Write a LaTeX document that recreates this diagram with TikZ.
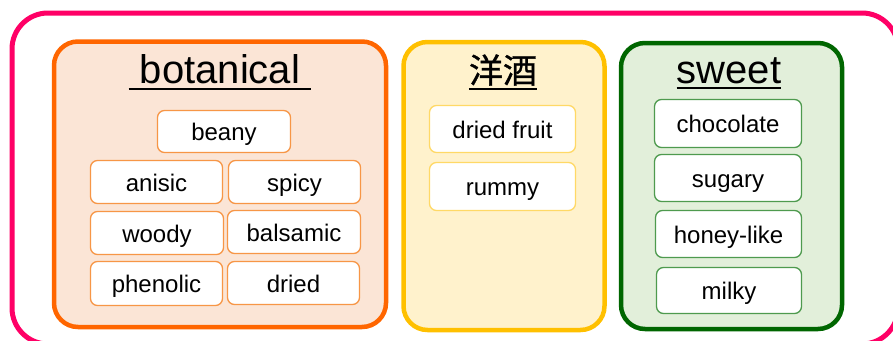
\documentclass[tikz,border=0pt]{standalone}
\usepackage{fontspec}
\setmainfont{Liberation Sans}
\newfontfamily\cjk[FakeBold=1]{Noto Sans CJK JP}
\definecolor{pinkc}{HTML}{FF0066}
\definecolor{orangec}{HTML}{FF6600}
\definecolor{orangefill}{HTML}{FBE5D6}
\definecolor{orangeitem}{HTML}{F79646}
\definecolor{yellowc}{HTML}{FFC000}
\definecolor{yellowfill}{HTML}{FFF2CC}
\definecolor{yellowitem}{HTML}{FFD966}
\definecolor{greenc}{HTML}{006600}
\definecolor{greenfill}{HTML}{E2EFDA}
\definecolor{greenitem}{HTML}{4E9A4E}
\begin{document}
\begin{tikzpicture}[x=1pt,y=-1pt,
  panel/.style={draw, line width=4.5pt, rounded corners=24pt, inner sep=0pt},
  item/.style={draw, line width=1.3pt, fill=white, rounded corners=7pt, inner sep=0pt,
    font=\fontsize{24}{28}\selectfont, text height=21pt, text depth=3pt},
  oitem/.style={item, draw=orangeitem},
  yitem/.style={item, draw=yellowitem},
  gitem/.style={item, draw=greenitem},
  title/.style={inner ysep=0pt, anchor=base, font=\fontsize{40}{44}\selectfont},
  uline/.style={line width=1.8pt}
]
\useasboundingbox (0,0) rectangle (893,340);
% outer frame
\node[draw=pinkc, line width=5pt, rounded corners=36pt, inner sep=0pt,
  minimum width=886pt, minimum height=331pt] (outer) at (455,178.5) {};
% panels
\node[panel, draw=orangec, fill=orangefill, minimum width=332pt, minimum height=285.5pt] (bot) at (220,184.25) {};
\node[panel, draw=yellowc, fill=yellowfill, minimum width=201pt, minimum height=288pt] (yoshu) at (504,186) {};
\node[panel, draw=greenc, fill=greenfill, minimum width=221pt, minimum height=286pt] (sweet) at (731.5,186) {};
% titles
\node[title, inner xsep=11pt] (tbot) at (220,83.5) {botanical};
\draw[uline] ([yshift=-5.5pt]tbot.base west) -- ([yshift=-5.5pt]tbot.base east);
\node[title, inner xsep=0pt, font=\fontsize{34}{38}\cjk] (tyoshu) at (503,83) {洋酒};
\draw[uline] ([yshift=-6pt]tyoshu.base west) -- ([yshift=-6pt]tyoshu.base east);
\node[title, inner xsep=0pt] (tsweet) at (729,83) {sweet};
\draw[uline] ([yshift=-5pt]tsweet.base west) -- ([yshift=-5pt]tsweet.base east);
% botanical items
\node[oitem, minimum width=133pt, minimum height=42pt] (beany) at (224,131.5) {beany};
\node[oitem, minimum width=132pt, minimum height=43pt] (anisic) at (156.5,182) {anisic};
\node[oitem, minimum width=132pt, minimum height=43pt] (spicy) at (294.5,182) {spicy};
\node[oitem, minimum width=133pt, minimum height=43pt] (woody) at (157,233) {woody};
\node[oitem, minimum width=133pt, minimum height=43pt] (balsamic) at (294,232) {balsamic};
\node[oitem, minimum width=132pt, minimum height=44pt] (phenolic) at (156.5,283.5) {phenolic};
\node[oitem, minimum width=132pt, minimum height=43pt] (dried) at (293.5,283) {dried};
% yoshu items
\node[yitem, minimum width=146pt, minimum height=47pt] (driedfruit) at (502.5,129) {dried fruit};
\node[yitem, minimum width=146pt, minimum height=48pt] (rummy) at (502.5,186.5) {rummy};
% sweet items
\node[gitem, minimum width=147pt, minimum height=48pt] (chocolate) at (728,123.5) {chocolate};
\node[gitem, minimum width=147pt, minimum height=47pt] (sugary) at (728,178) {sugary};
\node[gitem, minimum width=146pt, minimum height=47pt] (honey) at (728.5,234) {honey-like};
\node[gitem, minimum width=145pt, minimum height=46pt] (milky) at (729,290.5) {milky};
\end{tikzpicture}
\end{document}
